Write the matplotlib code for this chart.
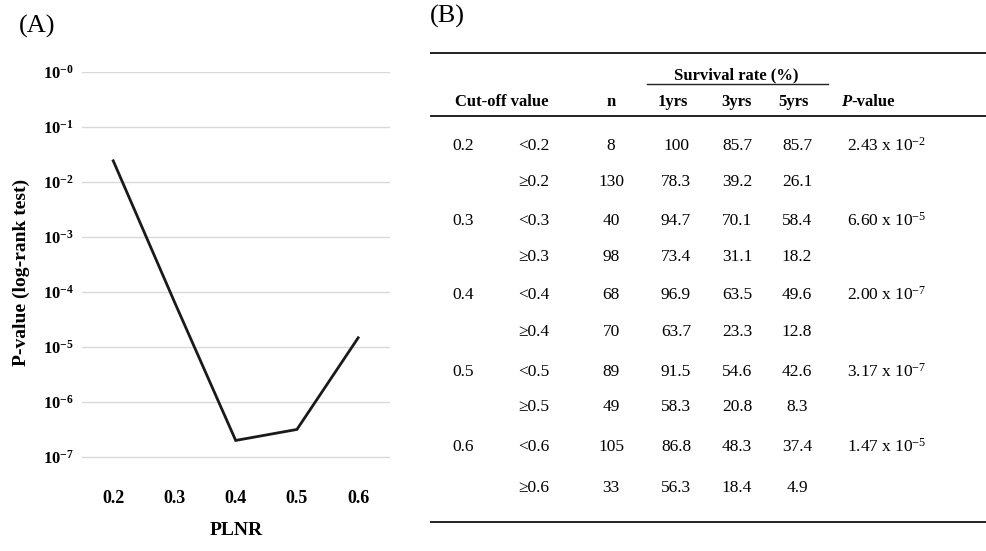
import numpy as np
from matplotlib import pyplot as plt
from matplotlib.lines import Line2D

plt.rcParams['font.family'] = 'Liberation Serif'
plt.rcParams['mathtext.fontset'] = 'custom'
plt.rcParams['mathtext.rm'] = 'Liberation Serif'
plt.rcParams['mathtext.bf'] = 'Liberation Serif:bold'
plt.rcParams['mathtext.it'] = 'Liberation Serif:italic'

# panel A data
plnr = ['0.2', '0.3', '0.4', '0.5', '0.6']
pvals = [2.43e-2, 6.60e-5, 2.00e-7, 3.17e-7, 1.47e-5]
ytick_exp = [0, -1, -2, -3, -4, -5, -6, -7]

# panel B data
cutoffs = ['0.2', '0.3', '0.4', '0.5', '0.6']
n_low = [8, 40, 68, 89, 105]
n_high = [130, 98, 70, 49, 33]
surv_low = [[100, 85.7, 85.7], [94.7, 70.1, 58.4], [96.9, 63.5, 49.6],
            [91.5, 54.6, 42.6], [86.8, 48.3, 37.4]]
surv_high = [[78.3, 39.2, 26.1], [73.4, 31.1, 18.2], [63.7, 23.3, 12.8],
             [58.3, 20.8, 8.3], [56.3, 18.4, 4.9]]
p_mant = ['2.43', '6.60', '2.00', '3.17', '1.47']
p_exp = [-2, -5, -7, -7, -5]
years = ['1yrs', '3yrs', '5yrs']

W, H = 987, 551
fig = plt.figure(figsize=(W / 100, H / 100), dpi=100)

# ---- panel A ----
ax = fig.add_axes([82 / W, 1 - 473.5 / H, (390 - 82) / W, (473.5 - 72) / H])
x = np.arange(len(plnr))
ax.plot(x, pvals, color='#1a1a1a', lw=2.0, solid_joinstyle='miter')
ax.set_yscale('log')
ax.set_ylim(10 ** -7.3, 10 ** 0)
ax.set_xlim(-0.51, 4.52)
yt = [10.0 ** e for e in ytick_exp]
ax.set_yticks(yt)
ax.set_yticklabels([r'$\mathbf{10^{-%d}}$' % abs(e) for e in ytick_exp], fontsize=12)
ax.yaxis.set_minor_locator(plt.NullLocator())
ax.set_xticks(x)
ax.set_xticklabels(plnr, fontsize=13, fontweight='bold')
ax.tick_params(axis='both', length=0)
ax.tick_params(axis='x', pad=12)
ax.tick_params(axis='y', pad=6)
ax.grid(axis='y', color='#d9d9d9', lw=1.0)
ax.set_axisbelow(True)
for s in ax.spines.values():
    s.set_visible(False)
ax.set_ylabel('P-value (log-rank test)', fontsize=14, fontweight='bold', labelpad=9)
ax.set_xlabel('PLNR', fontsize=14, fontweight='bold', labelpad=11)

fig.text(19 / W, 1 - 26 / H, '(A)', fontsize=19, va='center', ha='left')
fig.text(430 / W, 1 - 16 / H, '(B)', fontsize=19, va='center', ha='left')

# ---- panel B (table) ----
tb = fig.add_axes([0, 0, 1, 1])
tb.set_xlim(0, W)
tb.set_ylim(H, 0)
tb.axis('off')

tb.add_line(Line2D([431, W], [53, 53], color='#222222', lw=1.4))
tb.add_line(Line2D([431, W], [116, 116], color='#222222', lw=1.4))
tb.add_line(Line2D([431, W], [522, 522], color='#222222', lw=1.4))
tb.add_line(Line2D([647, 828], [84, 84], color='#222222', lw=1.0))

hb = dict(fontsize=12, fontweight='bold', va='center', ha='center')
tb.text(736, 75, 'Survival rate (%)', **hb)
tb.text(502, 102, 'Cut-off value', **hb)
tb.text(611, 102, 'n', **hb)
col_x = [673, 736, 793]
for cx, yl in zip(col_x, years):
    tb.text(cx, 102, yl, **hb)
tp = tb.text(841, 102, 'P', fontsize=12, fontweight='bold', style='italic',
             va='center', ha='left')
tb.annotate('-value', xy=(1, 0), xycoords=tp, va='bottom', ha='left',
            fontsize=12, fontweight='bold')

row_y = [146, 182, 221, 257, 295, 332, 372, 407, 447, 488]
fs = 12.5
val_x = [676, 737, 797]
for i, c in enumerate(cutoffs):
    y1 = row_y[2 * i]
    y2 = row_y[2 * i + 1]
    tb.text(452, y1, c, fontsize=fs, va='center', ha='left')
    tb.text(518, y1, '<' + c, fontsize=fs, va='center', ha='left')
    tb.text(518, y2, '\u2265' + c, fontsize=fs, va='center', ha='left')
    tb.text(611, y1, str(n_low[i]), fontsize=fs, va='center', ha='center')
    tb.text(611, y2, str(n_high[i]), fontsize=fs, va='center', ha='center')
    for cx, v1, v2 in zip(val_x, surv_low[i], surv_high[i]):
        tb.text(cx, y1, str(v1), fontsize=fs, va='center', ha='center')
        tb.text(cx, y2, str(v2), fontsize=fs, va='center', ha='center')
    tb.text(847, y1, r'$\mathrm{%s\ x\ 10^{-%d}}$' % (p_mant[i], abs(p_exp[i])),
            fontsize=fs, va='center', ha='left')

fig.savefig('out.png', dpi=100)
